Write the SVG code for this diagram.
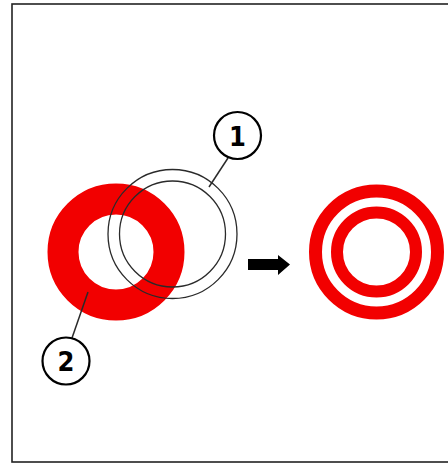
<svg xmlns="http://www.w3.org/2000/svg" width="448" height="463" viewBox="0 0 448 463">
<style>
.red{fill:none;stroke:#f20000}
.thin{fill:none;stroke:#2a2a2a;stroke-width:1.3}
.lbl{fill:#fff;stroke:#000;stroke-width:2.2}
.num{font-family:"DejaVu Sans Condensed","DejaVu Sans",sans-serif;font-size:27px;font-weight:bold;fill:#000;text-anchor:middle}
.lead{stroke:#2a2a2a;stroke-width:1.5;fill:none}
</style>
<rect x="0" y="0" width="448" height="463" fill="#fff"/>
<rect id="frame" x="12" y="4" width="450" height="458" fill="none" stroke="#222" stroke-width="1.6"/>
<g id="red-ring">
<circle class="red" cx="116" cy="252" r="53" stroke-width="31"/>
</g>
<g id="double-ring">
<circle class="thin" cx="172.5" cy="234" r="64.5"/>
<circle class="thin" cx="172.5" cy="234" r="53"/>
</g>
<g id="result">
<circle class="red" cx="376.5" cy="252" r="61" stroke-width="13"/>
<circle class="red" cx="376.5" cy="252" r="39.5" stroke-width="12"/>
</g>
<g id="connectors">
<line class="lead" x1="228" y1="158" x2="209" y2="187"/>
<line class="lead" x1="72" y1="338" x2="88" y2="292"/>
<polygon id="arrow" points="248,259 278,259 278,255 290,264.5 278,275 278,270 248,270" fill="#000"/>
</g>
<g id="label1">
<circle class="lbl" cx="237.5" cy="135.5" r="23.5"/>
<text class="num" x="237.5" y="145.5">1</text>
</g>
<g id="label2">
<circle class="lbl" cx="66" cy="361" r="23.5"/>
<text class="num" x="66" y="371">2</text>
</g>
</svg>
